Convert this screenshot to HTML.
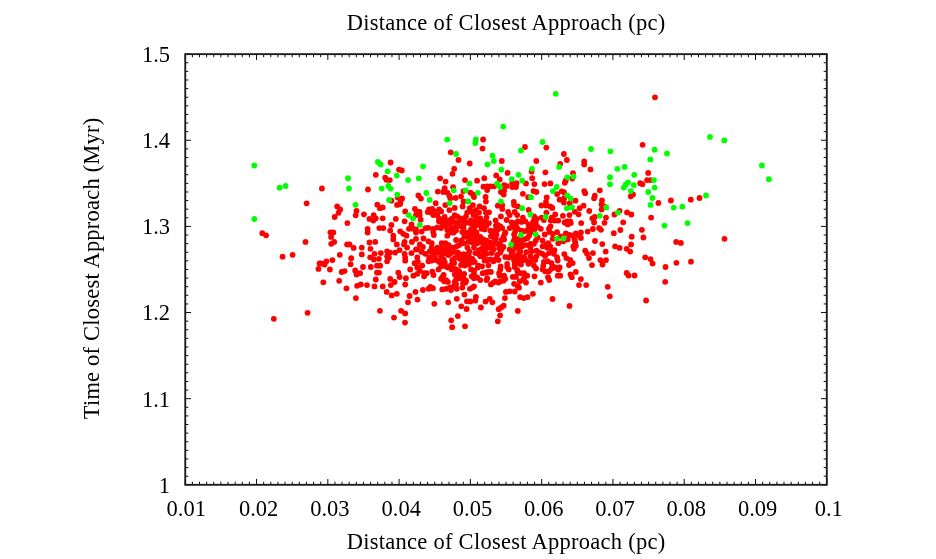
<!DOCTYPE html>
<html><head><meta charset="utf-8"><title>Closest Approach</title>
<style>html,body{margin:0;padding:0;background:#fff;overflow:hidden}svg{display:block}text{font-family:"Liberation Serif","Times New Roman",serif;font-size:22.5px;fill:#000}.r{fill:#f00}.g{fill:#0f0}</style></head><body>
<svg width="936" height="559" viewBox="0 0 936 559">
<rect width="936" height="559" fill="#fff"/>
<g class="r">
<circle cx="420.7" cy="219.7" r="2.9"/>
<circle cx="416.0" cy="229.4" r="2.9"/>
<circle cx="416.0" cy="238.8" r="2.9"/>
<circle cx="416.0" cy="232.5" r="2.9"/>
<circle cx="416.0" cy="249.4" r="2.9"/>
<circle cx="421.6" cy="231.6" r="2.9"/>
<circle cx="425.4" cy="228.1" r="2.9"/>
<circle cx="428.2" cy="227.8" r="2.9"/>
<circle cx="432.9" cy="228.8" r="2.9"/>
<circle cx="433.9" cy="235.0" r="2.9"/>
<circle cx="423.5" cy="238.5" r="2.9"/>
<circle cx="428.5" cy="241.3" r="2.9"/>
<circle cx="431.7" cy="243.2" r="2.9"/>
<circle cx="419.8" cy="244.4" r="2.9"/>
<circle cx="422.9" cy="246.9" r="2.9"/>
<circle cx="417.3" cy="249.4" r="2.9"/>
<circle cx="421.6" cy="251.9" r="2.9"/>
<circle cx="425.4" cy="253.8" r="2.9"/>
<circle cx="438.9" cy="221.3" r="2.9"/>
<circle cx="442.3" cy="223.8" r="2.9"/>
<circle cx="437.3" cy="227.5" r="2.9"/>
<circle cx="441.1" cy="228.1" r="2.9"/>
<circle cx="446.1" cy="221.9" r="2.9"/>
<circle cx="449.8" cy="223.8" r="2.9"/>
<circle cx="453.6" cy="221.9" r="2.9"/>
<circle cx="457.3" cy="222.5" r="2.9"/>
<circle cx="459.8" cy="220.6" r="2.9"/>
<circle cx="451.1" cy="228.1" r="2.9"/>
<circle cx="454.8" cy="227.5" r="2.9"/>
<circle cx="447.3" cy="230.0" r="2.9"/>
<circle cx="451.1" cy="232.5" r="2.9"/>
<circle cx="447.3" cy="235.7" r="2.9"/>
<circle cx="453.6" cy="232.5" r="2.9"/>
<circle cx="456.1" cy="230.6" r="2.9"/>
<circle cx="464.2" cy="223.8" r="2.9"/>
<circle cx="468.0" cy="222.5" r="2.9"/>
<circle cx="471.1" cy="223.8" r="2.9"/>
<circle cx="463.6" cy="228.1" r="2.9"/>
<circle cx="462.3" cy="231.9" r="2.9"/>
<circle cx="465.5" cy="233.2" r="2.9"/>
<circle cx="464.2" cy="236.9" r="2.9"/>
<circle cx="456.1" cy="240.0" r="2.9"/>
<circle cx="461.1" cy="240.7" r="2.9"/>
<circle cx="463.6" cy="243.2" r="2.9"/>
<circle cx="471.1" cy="229.4" r="2.9"/>
<circle cx="472.4" cy="233.8" r="2.9"/>
<circle cx="474.0" cy="227.5" r="2.9"/>
<circle cx="471.1" cy="238.8" r="2.9"/>
<circle cx="472.4" cy="242.5" r="2.9"/>
<circle cx="474.0" cy="238.2" r="2.9"/>
<circle cx="441.7" cy="243.2" r="2.9"/>
<circle cx="445.4" cy="243.2" r="2.9"/>
<circle cx="448.6" cy="245.1" r="2.9"/>
<circle cx="437.3" cy="247.6" r="2.9"/>
<circle cx="441.1" cy="248.2" r="2.9"/>
<circle cx="444.8" cy="248.8" r="2.9"/>
<circle cx="449.2" cy="249.4" r="2.9"/>
<circle cx="452.3" cy="247.6" r="2.9"/>
<circle cx="456.7" cy="246.3" r="2.9"/>
<circle cx="459.2" cy="245.1" r="2.9"/>
<circle cx="434.8" cy="251.3" r="2.9"/>
<circle cx="438.5" cy="252.6" r="2.9"/>
<circle cx="442.3" cy="253.2" r="2.9"/>
<circle cx="446.1" cy="253.8" r="2.9"/>
<circle cx="451.1" cy="253.2" r="2.9"/>
<circle cx="454.8" cy="251.9" r="2.9"/>
<circle cx="458.0" cy="252.6" r="2.9"/>
<circle cx="431.7" cy="247.6" r="2.9"/>
<circle cx="429.8" cy="251.3" r="2.9"/>
<circle cx="432.9" cy="253.8" r="2.9"/>
<circle cx="467.4" cy="247.6" r="2.9"/>
<circle cx="469.2" cy="251.3" r="2.9"/>
<circle cx="468.6" cy="253.8" r="2.9"/>
<circle cx="474.0" cy="247.6" r="2.9"/>
<circle cx="459.8" cy="255.0" r="2.9"/>
<circle cx="463.6" cy="254.1" r="2.9"/>
<circle cx="433.2" cy="231.9" r="2.9"/>
<circle cx="445.4" cy="226.0" r="2.9"/>
<circle cx="459.8" cy="226.0" r="2.9"/>
<circle cx="468.3" cy="232.5" r="2.9"/>
<circle cx="468.9" cy="237.5" r="2.9"/>
<circle cx="468.3" cy="241.9" r="2.9"/>
<circle cx="442.9" cy="220.0" r="2.9"/>
<circle cx="449.2" cy="220.3" r="2.9"/>
<circle cx="464.2" cy="220.0" r="2.9"/>
<circle cx="471.1" cy="220.3" r="2.9"/>
<circle cx="417.3" cy="257.5" r="2.9"/>
<circle cx="417.9" cy="261.9" r="2.9"/>
<circle cx="422.3" cy="265.6" r="2.9"/>
<circle cx="417.3" cy="267.5" r="2.9"/>
<circle cx="419.8" cy="270.7" r="2.9"/>
<circle cx="417.3" cy="273.8" r="2.9"/>
<circle cx="424.1" cy="273.2" r="2.9"/>
<circle cx="426.6" cy="273.2" r="2.9"/>
<circle cx="424.1" cy="276.3" r="2.9"/>
<circle cx="432.3" cy="271.6" r="2.9"/>
<circle cx="433.5" cy="275.0" r="2.9"/>
<circle cx="429.2" cy="257.5" r="2.9"/>
<circle cx="428.5" cy="261.3" r="2.9"/>
<circle cx="431.7" cy="260.6" r="2.9"/>
<circle cx="434.8" cy="256.3" r="2.9"/>
<circle cx="436.0" cy="260.0" r="2.9"/>
<circle cx="439.2" cy="261.9" r="2.9"/>
<circle cx="441.1" cy="256.9" r="2.9"/>
<circle cx="443.6" cy="259.4" r="2.9"/>
<circle cx="444.8" cy="262.5" r="2.9"/>
<circle cx="442.3" cy="265.0" r="2.9"/>
<circle cx="438.5" cy="269.4" r="2.9"/>
<circle cx="441.1" cy="266.3" r="2.9"/>
<circle cx="445.4" cy="266.3" r="2.9"/>
<circle cx="448.6" cy="255.0" r="2.9"/>
<circle cx="447.9" cy="267.5" r="2.9"/>
<circle cx="451.1" cy="265.0" r="2.9"/>
<circle cx="452.3" cy="260.0" r="2.9"/>
<circle cx="454.8" cy="258.1" r="2.9"/>
<circle cx="457.3" cy="256.9" r="2.9"/>
<circle cx="454.2" cy="263.1" r="2.9"/>
<circle cx="451.7" cy="269.4" r="2.9"/>
<circle cx="454.8" cy="268.8" r="2.9"/>
<circle cx="457.3" cy="270.0" r="2.9"/>
<circle cx="459.2" cy="271.3" r="2.9"/>
<circle cx="459.8" cy="258.8" r="2.9"/>
<circle cx="463.0" cy="256.9" r="2.9"/>
<circle cx="466.1" cy="258.1" r="2.9"/>
<circle cx="469.2" cy="256.9" r="2.9"/>
<circle cx="472.4" cy="258.8" r="2.9"/>
<circle cx="463.0" cy="261.9" r="2.9"/>
<circle cx="467.4" cy="261.9" r="2.9"/>
<circle cx="471.1" cy="262.5" r="2.9"/>
<circle cx="461.1" cy="265.0" r="2.9"/>
<circle cx="464.9" cy="265.6" r="2.9"/>
<circle cx="468.6" cy="264.4" r="2.9"/>
<circle cx="471.1" cy="269.4" r="2.9"/>
<circle cx="474.0" cy="270.7" r="2.9"/>
<circle cx="471.7" cy="276.3" r="2.9"/>
<circle cx="474.0" cy="278.2" r="2.9"/>
<circle cx="474.0" cy="273.8" r="2.9"/>
<circle cx="454.8" cy="274.4" r="2.9"/>
<circle cx="458.6" cy="276.3" r="2.9"/>
<circle cx="462.3" cy="275.0" r="2.9"/>
<circle cx="464.2" cy="273.8" r="2.9"/>
<circle cx="459.8" cy="278.2" r="2.9"/>
<circle cx="463.6" cy="278.2" r="2.9"/>
<circle cx="466.1" cy="280.7" r="2.9"/>
<circle cx="456.1" cy="279.4" r="2.9"/>
<circle cx="454.8" cy="281.9" r="2.9"/>
<circle cx="463.0" cy="283.2" r="2.9"/>
<circle cx="465.5" cy="282.6" r="2.9"/>
<circle cx="462.3" cy="287.6" r="2.9"/>
<circle cx="456.1" cy="284.4" r="2.9"/>
<circle cx="453.6" cy="286.3" r="2.9"/>
<circle cx="449.8" cy="287.6" r="2.9"/>
<circle cx="446.1" cy="288.8" r="2.9"/>
<circle cx="442.3" cy="289.4" r="2.9"/>
<circle cx="456.7" cy="288.8" r="2.9"/>
<circle cx="443.6" cy="275.0" r="2.9"/>
<circle cx="442.3" cy="277.5" r="2.9"/>
<circle cx="441.1" cy="278.8" r="2.9"/>
<circle cx="444.2" cy="281.3" r="2.9"/>
<circle cx="447.9" cy="281.9" r="2.9"/>
<circle cx="446.1" cy="280.1" r="2.9"/>
<circle cx="430.4" cy="286.9" r="2.9"/>
<circle cx="432.9" cy="288.2" r="2.9"/>
<circle cx="428.5" cy="288.8" r="2.9"/>
<circle cx="422.9" cy="290.0" r="2.9"/>
<circle cx="469.9" cy="288.8" r="2.9"/>
<circle cx="474.0" cy="286.3" r="2.9"/>
<circle cx="472.4" cy="287.6" r="2.9"/>
<circle cx="475.3" cy="221.3" r="2.9"/>
<circle cx="478.4" cy="221.9" r="2.9"/>
<circle cx="482.1" cy="221.3" r="2.9"/>
<circle cx="485.3" cy="222.5" r="2.9"/>
<circle cx="489.0" cy="223.1" r="2.9"/>
<circle cx="480.3" cy="225.0" r="2.9"/>
<circle cx="483.4" cy="226.3" r="2.9"/>
<circle cx="486.5" cy="225.6" r="2.9"/>
<circle cx="475.9" cy="225.6" r="2.9"/>
<circle cx="481.5" cy="228.8" r="2.9"/>
<circle cx="484.6" cy="229.4" r="2.9"/>
<circle cx="474.6" cy="231.3" r="2.9"/>
<circle cx="476.5" cy="232.5" r="2.9"/>
<circle cx="477.8" cy="236.3" r="2.9"/>
<circle cx="477.1" cy="239.4" r="2.9"/>
<circle cx="480.3" cy="236.9" r="2.9"/>
<circle cx="483.4" cy="239.4" r="2.9"/>
<circle cx="486.5" cy="240.7" r="2.9"/>
<circle cx="480.3" cy="241.9" r="2.9"/>
<circle cx="477.1" cy="243.2" r="2.9"/>
<circle cx="483.4" cy="243.2" r="2.9"/>
<circle cx="487.2" cy="243.8" r="2.9"/>
<circle cx="490.3" cy="242.5" r="2.9"/>
<circle cx="492.8" cy="243.8" r="2.9"/>
<circle cx="495.3" cy="242.5" r="2.9"/>
<circle cx="497.8" cy="243.8" r="2.9"/>
<circle cx="500.3" cy="245.1" r="2.9"/>
<circle cx="492.8" cy="246.9" r="2.9"/>
<circle cx="489.7" cy="247.6" r="2.9"/>
<circle cx="486.5" cy="248.2" r="2.9"/>
<circle cx="482.1" cy="248.2" r="2.9"/>
<circle cx="479.0" cy="250.1" r="2.9"/>
<circle cx="475.3" cy="253.2" r="2.9"/>
<circle cx="478.4" cy="253.8" r="2.9"/>
<circle cx="484.0" cy="252.6" r="2.9"/>
<circle cx="486.5" cy="253.8" r="2.9"/>
<circle cx="491.5" cy="253.2" r="2.9"/>
<circle cx="493.4" cy="249.4" r="2.9"/>
<circle cx="499.1" cy="248.2" r="2.9"/>
<circle cx="501.6" cy="249.4" r="2.9"/>
<circle cx="500.3" cy="252.6" r="2.9"/>
<circle cx="497.2" cy="255.0" r="2.9"/>
<circle cx="503.4" cy="246.9" r="2.9"/>
<circle cx="490.3" cy="230.6" r="2.9"/>
<circle cx="492.2" cy="233.8" r="2.9"/>
<circle cx="490.9" cy="236.3" r="2.9"/>
<circle cx="494.0" cy="237.5" r="2.9"/>
<circle cx="495.9" cy="238.8" r="2.9"/>
<circle cx="496.5" cy="234.4" r="2.9"/>
<circle cx="494.7" cy="230.6" r="2.9"/>
<circle cx="497.8" cy="229.4" r="2.9"/>
<circle cx="497.8" cy="225.0" r="2.9"/>
<circle cx="500.3" cy="226.3" r="2.9"/>
<circle cx="502.2" cy="228.1" r="2.9"/>
<circle cx="495.9" cy="225.6" r="2.9"/>
<circle cx="504.7" cy="233.8" r="2.9"/>
<circle cx="503.4" cy="236.9" r="2.9"/>
<circle cx="505.3" cy="232.5" r="2.9"/>
<circle cx="501.6" cy="240.0" r="2.9"/>
<circle cx="504.1" cy="239.4" r="2.9"/>
<circle cx="495.6" cy="220.3" r="2.9"/>
<circle cx="506.6" cy="220.0" r="2.9"/>
<circle cx="509.7" cy="228.1" r="2.9"/>
<circle cx="512.8" cy="226.9" r="2.9"/>
<circle cx="514.1" cy="223.1" r="2.9"/>
<circle cx="511.6" cy="222.5" r="2.9"/>
<circle cx="516.0" cy="225.6" r="2.9"/>
<circle cx="517.8" cy="228.8" r="2.9"/>
<circle cx="515.3" cy="231.3" r="2.9"/>
<circle cx="514.1" cy="234.4" r="2.9"/>
<circle cx="514.7" cy="238.2" r="2.9"/>
<circle cx="513.5" cy="241.3" r="2.9"/>
<circle cx="516.6" cy="241.3" r="2.9"/>
<circle cx="517.8" cy="238.8" r="2.9"/>
<circle cx="521.0" cy="240.7" r="2.9"/>
<circle cx="524.1" cy="239.4" r="2.9"/>
<circle cx="527.2" cy="238.2" r="2.9"/>
<circle cx="529.1" cy="235.7" r="2.9"/>
<circle cx="524.1" cy="231.3" r="2.9"/>
<circle cx="527.2" cy="230.6" r="2.9"/>
<circle cx="530.4" cy="232.5" r="2.9"/>
<circle cx="521.6" cy="230.6" r="2.9"/>
<circle cx="531.6" cy="228.8" r="2.9"/>
<circle cx="528.5" cy="228.8" r="2.9"/>
<circle cx="517.8" cy="221.3" r="2.9"/>
<circle cx="521.6" cy="221.9" r="2.9"/>
<circle cx="525.4" cy="221.3" r="2.9"/>
<circle cx="528.5" cy="224.4" r="2.9"/>
<circle cx="530.4" cy="225.6" r="2.9"/>
<circle cx="509.7" cy="249.4" r="2.9"/>
<circle cx="512.8" cy="251.3" r="2.9"/>
<circle cx="511.6" cy="253.8" r="2.9"/>
<circle cx="515.3" cy="247.6" r="2.9"/>
<circle cx="517.8" cy="245.1" r="2.9"/>
<circle cx="521.0" cy="245.1" r="2.9"/>
<circle cx="524.1" cy="245.1" r="2.9"/>
<circle cx="527.9" cy="245.1" r="2.9"/>
<circle cx="530.4" cy="243.8" r="2.9"/>
<circle cx="519.1" cy="249.4" r="2.9"/>
<circle cx="519.7" cy="252.6" r="2.9"/>
<circle cx="517.8" cy="255.0" r="2.9"/>
<circle cx="526.3" cy="252.1" r="2.9"/>
<circle cx="522.2" cy="246.3" r="2.9"/>
<circle cx="530.4" cy="247.6" r="2.9"/>
<circle cx="531.6" cy="251.3" r="2.9"/>
<circle cx="520.3" cy="251.3" r="2.9"/>
<circle cx="514.1" cy="245.1" r="2.9"/>
<circle cx="480.3" cy="256.3" r="2.9"/>
<circle cx="483.4" cy="256.3" r="2.9"/>
<circle cx="484.6" cy="260.6" r="2.9"/>
<circle cx="487.8" cy="260.0" r="2.9"/>
<circle cx="490.9" cy="259.4" r="2.9"/>
<circle cx="493.4" cy="261.3" r="2.9"/>
<circle cx="495.9" cy="258.8" r="2.9"/>
<circle cx="498.4" cy="260.0" r="2.9"/>
<circle cx="474.6" cy="261.9" r="2.9"/>
<circle cx="478.4" cy="265.6" r="2.9"/>
<circle cx="482.1" cy="266.3" r="2.9"/>
<circle cx="477.8" cy="267.5" r="2.9"/>
<circle cx="488.4" cy="265.3" r="2.9"/>
<circle cx="477.1" cy="277.5" r="2.9"/>
<circle cx="480.3" cy="280.1" r="2.9"/>
<circle cx="482.8" cy="273.2" r="2.9"/>
<circle cx="485.9" cy="272.5" r="2.9"/>
<circle cx="488.4" cy="271.9" r="2.9"/>
<circle cx="490.9" cy="271.9" r="2.9"/>
<circle cx="487.2" cy="278.2" r="2.9"/>
<circle cx="486.5" cy="280.1" r="2.9"/>
<circle cx="500.6" cy="266.3" r="2.9"/>
<circle cx="500.3" cy="269.4" r="2.9"/>
<circle cx="499.1" cy="273.2" r="2.9"/>
<circle cx="499.7" cy="275.7" r="2.9"/>
<circle cx="504.1" cy="275.7" r="2.9"/>
<circle cx="505.3" cy="278.8" r="2.9"/>
<circle cx="503.4" cy="280.7" r="2.9"/>
<circle cx="500.3" cy="281.3" r="2.9"/>
<circle cx="498.4" cy="282.6" r="2.9"/>
<circle cx="495.3" cy="281.3" r="2.9"/>
<circle cx="493.4" cy="282.6" r="2.9"/>
<circle cx="490.9" cy="284.4" r="2.9"/>
<circle cx="507.2" cy="263.8" r="2.9"/>
<circle cx="507.2" cy="266.9" r="2.9"/>
<circle cx="508.8" cy="269.4" r="2.9"/>
<circle cx="505.3" cy="256.9" r="2.9"/>
<circle cx="509.1" cy="257.5" r="2.9"/>
<circle cx="512.8" cy="256.3" r="2.9"/>
<circle cx="516.6" cy="257.5" r="2.9"/>
<circle cx="520.3" cy="256.3" r="2.9"/>
<circle cx="524.1" cy="256.9" r="2.9"/>
<circle cx="514.1" cy="260.6" r="2.9"/>
<circle cx="517.8" cy="260.0" r="2.9"/>
<circle cx="521.6" cy="260.6" r="2.9"/>
<circle cx="525.4" cy="260.0" r="2.9"/>
<circle cx="514.7" cy="264.4" r="2.9"/>
<circle cx="517.8" cy="263.1" r="2.9"/>
<circle cx="521.0" cy="264.4" r="2.9"/>
<circle cx="514.7" cy="266.9" r="2.9"/>
<circle cx="528.5" cy="263.8" r="2.9"/>
<circle cx="530.4" cy="261.3" r="2.9"/>
<circle cx="532.0" cy="258.8" r="2.9"/>
<circle cx="530.4" cy="256.3" r="2.9"/>
<circle cx="517.2" cy="270.0" r="2.9"/>
<circle cx="517.8" cy="272.5" r="2.9"/>
<circle cx="521.0" cy="273.2" r="2.9"/>
<circle cx="524.1" cy="273.2" r="2.9"/>
<circle cx="527.2" cy="275.7" r="2.9"/>
<circle cx="512.8" cy="276.9" r="2.9"/>
<circle cx="516.0" cy="276.9" r="2.9"/>
<circle cx="524.1" cy="278.2" r="2.9"/>
<circle cx="519.7" cy="281.3" r="2.9"/>
<circle cx="522.9" cy="280.1" r="2.9"/>
<circle cx="526.0" cy="282.6" r="2.9"/>
<circle cx="514.1" cy="283.8" r="2.9"/>
<circle cx="517.8" cy="286.3" r="2.9"/>
<circle cx="519.0" cy="287.7" r="2.9"/>
<circle cx="533.3" cy="221.3" r="2.9"/>
<circle cx="535.8" cy="223.1" r="2.9"/>
<circle cx="533.9" cy="226.3" r="2.9"/>
<circle cx="537.6" cy="226.9" r="2.9"/>
<circle cx="540.8" cy="228.8" r="2.9"/>
<circle cx="534.5" cy="229.4" r="2.9"/>
<circle cx="543.9" cy="220.0" r="2.9"/>
<circle cx="550.8" cy="220.6" r="2.9"/>
<circle cx="554.5" cy="220.6" r="2.9"/>
<circle cx="558.3" cy="220.6" r="2.9"/>
<circle cx="550.5" cy="226.3" r="2.9"/>
<circle cx="548.9" cy="228.8" r="2.9"/>
<circle cx="549.5" cy="231.9" r="2.9"/>
<circle cx="552.7" cy="233.8" r="2.9"/>
<circle cx="544.8" cy="234.4" r="2.9"/>
<circle cx="557.1" cy="232.2" r="2.9"/>
<circle cx="552.7" cy="238.8" r="2.9"/>
<circle cx="560.8" cy="236.3" r="2.9"/>
<circle cx="564.6" cy="222.5" r="2.9"/>
<circle cx="567.7" cy="224.4" r="2.9"/>
<circle cx="570.8" cy="223.1" r="2.9"/>
<circle cx="567.1" cy="221.3" r="2.9"/>
<circle cx="570.2" cy="221.3" r="2.9"/>
<circle cx="581.2" cy="223.1" r="2.9"/>
<circle cx="587.7" cy="231.6" r="2.9"/>
<circle cx="565.8" cy="233.5" r="2.9"/>
<circle cx="569.6" cy="235.0" r="2.9"/>
<circle cx="572.7" cy="235.7" r="2.9"/>
<circle cx="575.8" cy="233.5" r="2.9"/>
<circle cx="580.9" cy="232.5" r="2.9"/>
<circle cx="578.3" cy="235.0" r="2.9"/>
<circle cx="580.9" cy="237.9" r="2.9"/>
<circle cx="567.7" cy="239.4" r="2.9"/>
<circle cx="563.3" cy="241.3" r="2.9"/>
<circle cx="558.3" cy="243.2" r="2.9"/>
<circle cx="574.6" cy="239.4" r="2.9"/>
<circle cx="575.2" cy="242.5" r="2.9"/>
<circle cx="573.3" cy="246.3" r="2.9"/>
<circle cx="575.8" cy="245.7" r="2.9"/>
<circle cx="574.0" cy="248.8" r="2.9"/>
<circle cx="537.6" cy="237.5" r="2.9"/>
<circle cx="535.8" cy="240.7" r="2.9"/>
<circle cx="533.9" cy="243.8" r="2.9"/>
<circle cx="542.6" cy="240.7" r="2.9"/>
<circle cx="548.3" cy="243.2" r="2.9"/>
<circle cx="545.8" cy="245.1" r="2.9"/>
<circle cx="542.6" cy="246.3" r="2.9"/>
<circle cx="550.2" cy="246.3" r="2.9"/>
<circle cx="547.0" cy="247.6" r="2.9"/>
<circle cx="536.4" cy="250.7" r="2.9"/>
<circle cx="539.5" cy="252.6" r="2.9"/>
<circle cx="542.6" cy="253.8" r="2.9"/>
<circle cx="554.5" cy="250.1" r="2.9"/>
<circle cx="551.4" cy="251.3" r="2.9"/>
<circle cx="548.9" cy="253.2" r="2.9"/>
<circle cx="553.9" cy="253.8" r="2.9"/>
<circle cx="564.3" cy="254.1" r="2.9"/>
<circle cx="585.2" cy="250.7" r="2.9"/>
<circle cx="587.1" cy="253.8" r="2.9"/>
<circle cx="536.4" cy="256.3" r="2.9"/>
<circle cx="535.1" cy="260.0" r="2.9"/>
<circle cx="533.9" cy="265.6" r="2.9"/>
<circle cx="536.1" cy="268.5" r="2.9"/>
<circle cx="545.2" cy="255.9" r="2.9"/>
<circle cx="543.9" cy="261.9" r="2.9"/>
<circle cx="547.7" cy="261.3" r="2.9"/>
<circle cx="551.4" cy="263.1" r="2.9"/>
<circle cx="543.3" cy="265.6" r="2.9"/>
<circle cx="542.6" cy="269.4" r="2.9"/>
<circle cx="545.2" cy="271.3" r="2.9"/>
<circle cx="548.9" cy="271.3" r="2.9"/>
<circle cx="551.4" cy="268.8" r="2.9"/>
<circle cx="552.7" cy="266.3" r="2.9"/>
<circle cx="555.2" cy="267.5" r="2.9"/>
<circle cx="559.6" cy="267.5" r="2.9"/>
<circle cx="558.3" cy="269.4" r="2.9"/>
<circle cx="557.1" cy="257.5" r="2.9"/>
<circle cx="557.7" cy="260.6" r="2.9"/>
<circle cx="566.4" cy="258.1" r="2.9"/>
<circle cx="570.2" cy="260.0" r="2.9"/>
<circle cx="572.7" cy="263.1" r="2.9"/>
<circle cx="569.0" cy="265.0" r="2.9"/>
<circle cx="534.5" cy="276.3" r="2.9"/>
<circle cx="540.8" cy="282.6" r="2.9"/>
<circle cx="548.0" cy="277.2" r="2.9"/>
<circle cx="549.2" cy="280.1" r="2.9"/>
<circle cx="557.7" cy="275.7" r="2.9"/>
<circle cx="560.2" cy="275.7" r="2.9"/>
<circle cx="570.5" cy="274.4" r="2.9"/>
<circle cx="571.8" cy="277.2" r="2.9"/>
<circle cx="575.8" cy="271.9" r="2.9"/>
<circle cx="580.9" cy="279.1" r="2.9"/>
<circle cx="579.0" cy="285.1" r="2.9"/>
<circle cx="586.2" cy="285.1" r="2.9"/>
<circle cx="589.0" cy="258.1" r="2.9"/>
<circle cx="321.9" cy="188.5" r="2.9"/>
<circle cx="306.6" cy="203.3" r="2.9"/>
<circle cx="337.2" cy="206.5" r="2.9"/>
<circle cx="340.2" cy="209.5" r="2.9"/>
<circle cx="338.5" cy="212.8" r="2.9"/>
<circle cx="334.7" cy="217.0" r="2.9"/>
<circle cx="356.5" cy="211.0" r="2.9"/>
<circle cx="355.7" cy="215.3" r="2.9"/>
<circle cx="390.6" cy="162.5" r="2.9"/>
<circle cx="399.0" cy="169.7" r="2.9"/>
<circle cx="401.8" cy="170.4" r="2.9"/>
<circle cx="375.8" cy="174.8" r="2.9"/>
<circle cx="385.2" cy="177.6" r="2.9"/>
<circle cx="386.4" cy="179.8" r="2.9"/>
<circle cx="389.8" cy="180.1" r="2.9"/>
<circle cx="368.0" cy="189.5" r="2.9"/>
<circle cx="450.7" cy="152.3" r="2.9"/>
<circle cx="458.5" cy="160.0" r="2.9"/>
<circle cx="469.7" cy="163.5" r="2.9"/>
<circle cx="454.2" cy="168.8" r="2.9"/>
<circle cx="452.5" cy="173.8" r="2.9"/>
<circle cx="440.1" cy="178.3" r="2.9"/>
<circle cx="445.6" cy="181.6" r="2.9"/>
<circle cx="465.0" cy="180.1" r="2.9"/>
<circle cx="453.1" cy="187.2" r="2.9"/>
<circle cx="444.7" cy="188.2" r="2.9"/>
<circle cx="437.8" cy="191.6" r="2.9"/>
<circle cx="443.2" cy="192.0" r="2.9"/>
<circle cx="447.4" cy="192.6" r="2.9"/>
<circle cx="449.4" cy="195.7" r="2.9"/>
<circle cx="450.3" cy="198.2" r="2.9"/>
<circle cx="455.6" cy="197.9" r="2.9"/>
<circle cx="461.0" cy="196.3" r="2.9"/>
<circle cx="463.5" cy="191.1" r="2.9"/>
<circle cx="470.4" cy="192.6" r="2.9"/>
<circle cx="472.9" cy="194.5" r="2.9"/>
<circle cx="418.4" cy="195.5" r="2.9"/>
<circle cx="420.9" cy="198.6" r="2.9"/>
<circle cx="435.7" cy="203.2" r="2.9"/>
<circle cx="445.3" cy="205.1" r="2.9"/>
<circle cx="449.4" cy="210.1" r="2.9"/>
<circle cx="454.7" cy="207.9" r="2.9"/>
<circle cx="463.5" cy="201.4" r="2.9"/>
<circle cx="462.6" cy="206.4" r="2.9"/>
<circle cx="469.7" cy="208.2" r="2.9"/>
<circle cx="472.9" cy="205.1" r="2.9"/>
<circle cx="397.7" cy="197.6" r="2.9"/>
<circle cx="402.1" cy="198.5" r="2.9"/>
<circle cx="400.5" cy="201.4" r="2.9"/>
<circle cx="397.1" cy="204.9" r="2.9"/>
<circle cx="400.2" cy="204.1" r="2.9"/>
<circle cx="391.4" cy="200.7" r="2.9"/>
<circle cx="377.3" cy="204.7" r="2.9"/>
<circle cx="379.9" cy="208.2" r="2.9"/>
<circle cx="382.7" cy="207.4" r="2.9"/>
<circle cx="363.9" cy="214.3" r="2.9"/>
<circle cx="373.7" cy="215.1" r="2.9"/>
<circle cx="375.8" cy="218.3" r="2.9"/>
<circle cx="382.7" cy="218.3" r="2.9"/>
<circle cx="405.2" cy="211.4" r="2.9"/>
<circle cx="414.9" cy="208.9" r="2.9"/>
<circle cx="416.9" cy="211.4" r="2.9"/>
<circle cx="419.6" cy="212.0" r="2.9"/>
<circle cx="415.9" cy="215.1" r="2.9"/>
<circle cx="419.6" cy="215.1" r="2.9"/>
<circle cx="429.0" cy="209.5" r="2.9"/>
<circle cx="432.2" cy="208.9" r="2.9"/>
<circle cx="427.8" cy="212.0" r="2.9"/>
<circle cx="430.9" cy="212.6" r="2.9"/>
<circle cx="434.7" cy="211.4" r="2.9"/>
<circle cx="439.1" cy="209.5" r="2.9"/>
<circle cx="441.2" cy="211.4" r="2.9"/>
<circle cx="433.4" cy="215.1" r="2.9"/>
<circle cx="437.2" cy="215.1" r="2.9"/>
<circle cx="439.1" cy="218.3" r="2.9"/>
<circle cx="444.7" cy="217.0" r="2.9"/>
<circle cx="454.7" cy="215.1" r="2.9"/>
<circle cx="457.2" cy="216.4" r="2.9"/>
<circle cx="452.2" cy="218.3" r="2.9"/>
<circle cx="461.0" cy="218.3" r="2.9"/>
<circle cx="467.2" cy="212.6" r="2.9"/>
<circle cx="471.6" cy="211.4" r="2.9"/>
<circle cx="466.0" cy="216.4" r="2.9"/>
<circle cx="473.5" cy="215.1" r="2.9"/>
<circle cx="395.8" cy="218.9" r="2.9"/>
<circle cx="369.5" cy="218.9" r="2.9"/>
<circle cx="501.8" cy="161.0" r="2.9"/>
<circle cx="536.3" cy="161.0" r="2.9"/>
<circle cx="563.9" cy="154.0" r="2.9"/>
<circle cx="566.9" cy="160.0" r="2.9"/>
<circle cx="560.2" cy="164.0" r="2.9"/>
<circle cx="584.2" cy="161.5" r="2.9"/>
<circle cx="584.2" cy="164.4" r="2.9"/>
<circle cx="590.5" cy="169.4" r="2.9"/>
<circle cx="545.4" cy="172.3" r="2.9"/>
<circle cx="531.6" cy="171.5" r="2.9"/>
<circle cx="507.6" cy="172.9" r="2.9"/>
<circle cx="496.2" cy="175.4" r="2.9"/>
<circle cx="499.7" cy="179.4" r="2.9"/>
<circle cx="484.3" cy="178.2" r="2.9"/>
<circle cx="477.1" cy="180.7" r="2.9"/>
<circle cx="532.2" cy="178.2" r="2.9"/>
<circle cx="534.4" cy="184.1" r="2.9"/>
<circle cx="526.0" cy="183.4" r="2.9"/>
<circle cx="544.5" cy="184.1" r="2.9"/>
<circle cx="550.4" cy="183.4" r="2.9"/>
<circle cx="573.0" cy="173.2" r="2.9"/>
<circle cx="572.3" cy="178.6" r="2.9"/>
<circle cx="565.7" cy="180.7" r="2.9"/>
<circle cx="564.8" cy="182.8" r="2.9"/>
<circle cx="584.2" cy="191.1" r="2.9"/>
<circle cx="585.2" cy="193.2" r="2.9"/>
<circle cx="483.4" cy="186.7" r="2.9"/>
<circle cx="487.2" cy="186.3" r="2.9"/>
<circle cx="490.3" cy="186.3" r="2.9"/>
<circle cx="487.2" cy="190.1" r="2.9"/>
<circle cx="494.0" cy="186.3" r="2.9"/>
<circle cx="504.1" cy="185.1" r="2.9"/>
<circle cx="506.8" cy="186.1" r="2.9"/>
<circle cx="512.2" cy="183.2" r="2.9"/>
<circle cx="516.6" cy="183.2" r="2.9"/>
<circle cx="512.2" cy="187.0" r="2.9"/>
<circle cx="516.0" cy="187.0" r="2.9"/>
<circle cx="500.9" cy="192.0" r="2.9"/>
<circle cx="504.1" cy="190.7" r="2.9"/>
<circle cx="503.7" cy="194.5" r="2.9"/>
<circle cx="533.5" cy="191.1" r="2.9"/>
<circle cx="536.4" cy="192.0" r="2.9"/>
<circle cx="522.9" cy="193.8" r="2.9"/>
<circle cx="528.2" cy="197.2" r="2.9"/>
<circle cx="546.7" cy="197.4" r="2.9"/>
<circle cx="557.1" cy="194.1" r="2.9"/>
<circle cx="561.7" cy="191.3" r="2.9"/>
<circle cx="563.9" cy="192.2" r="2.9"/>
<circle cx="559.6" cy="199.7" r="2.9"/>
<circle cx="564.2" cy="198.2" r="2.9"/>
<circle cx="563.9" cy="202.6" r="2.9"/>
<circle cx="575.5" cy="200.7" r="2.9"/>
<circle cx="569.8" cy="203.2" r="2.9"/>
<circle cx="583.6" cy="205.7" r="2.9"/>
<circle cx="579.6" cy="208.2" r="2.9"/>
<circle cx="574.8" cy="211.8" r="2.9"/>
<circle cx="578.6" cy="214.3" r="2.9"/>
<circle cx="589.2" cy="211.0" r="2.9"/>
<circle cx="569.5" cy="215.1" r="2.9"/>
<circle cx="562.9" cy="215.8" r="2.9"/>
<circle cx="555.2" cy="214.5" r="2.9"/>
<circle cx="546.0" cy="202.0" r="2.9"/>
<circle cx="541.4" cy="205.5" r="2.9"/>
<circle cx="546.0" cy="205.5" r="2.9"/>
<circle cx="550.4" cy="206.4" r="2.9"/>
<circle cx="552.3" cy="207.9" r="2.9"/>
<circle cx="546.4" cy="212.6" r="2.9"/>
<circle cx="541.6" cy="217.6" r="2.9"/>
<circle cx="551.7" cy="217.6" r="2.9"/>
<circle cx="513.8" cy="202.0" r="2.9"/>
<circle cx="514.1" cy="205.1" r="2.9"/>
<circle cx="517.8" cy="206.4" r="2.9"/>
<circle cx="528.7" cy="209.9" r="2.9"/>
<circle cx="534.1" cy="216.4" r="2.9"/>
<circle cx="536.6" cy="218.9" r="2.9"/>
<circle cx="522.9" cy="217.6" r="2.9"/>
<circle cx="514.7" cy="212.0" r="2.9"/>
<circle cx="517.2" cy="215.1" r="2.9"/>
<circle cx="508.1" cy="212.0" r="2.9"/>
<circle cx="509.7" cy="215.1" r="2.9"/>
<circle cx="500.9" cy="216.4" r="2.9"/>
<circle cx="497.8" cy="205.7" r="2.9"/>
<circle cx="502.2" cy="205.1" r="2.9"/>
<circle cx="502.2" cy="208.9" r="2.9"/>
<circle cx="485.6" cy="197.0" r="2.9"/>
<circle cx="485.9" cy="201.6" r="2.9"/>
<circle cx="474.0" cy="197.0" r="2.9"/>
<circle cx="479.6" cy="206.4" r="2.9"/>
<circle cx="484.0" cy="208.2" r="2.9"/>
<circle cx="475.9" cy="210.1" r="2.9"/>
<circle cx="479.0" cy="212.6" r="2.9"/>
<circle cx="485.9" cy="212.6" r="2.9"/>
<circle cx="489.0" cy="212.3" r="2.9"/>
<circle cx="475.9" cy="216.4" r="2.9"/>
<circle cx="480.3" cy="218.3" r="2.9"/>
<circle cx="486.5" cy="217.6" r="2.9"/>
<circle cx="648.2" cy="172.9" r="2.9"/>
<circle cx="647.1" cy="180.1" r="2.9"/>
<circle cx="650.5" cy="180.1" r="2.9"/>
<circle cx="640.2" cy="183.2" r="2.9"/>
<circle cx="642.4" cy="184.2" r="2.9"/>
<circle cx="633.0" cy="194.5" r="2.9"/>
<circle cx="630.8" cy="196.3" r="2.9"/>
<circle cx="599.8" cy="190.3" r="2.9"/>
<circle cx="594.8" cy="195.7" r="2.9"/>
<circle cx="594.1" cy="198.2" r="2.9"/>
<circle cx="602.0" cy="200.5" r="2.9"/>
<circle cx="601.6" cy="204.5" r="2.9"/>
<circle cx="604.2" cy="206.4" r="2.9"/>
<circle cx="601.6" cy="209.5" r="2.9"/>
<circle cx="658.4" cy="203.0" r="2.9"/>
<circle cx="670.9" cy="200.5" r="2.9"/>
<circle cx="690.8" cy="199.7" r="2.9"/>
<circle cx="699.5" cy="198.0" r="2.9"/>
<circle cx="619.6" cy="210.8" r="2.9"/>
<circle cx="614.4" cy="214.5" r="2.9"/>
<circle cx="627.0" cy="212.4" r="2.9"/>
<circle cx="631.3" cy="214.5" r="2.9"/>
<circle cx="651.1" cy="217.6" r="2.9"/>
<circle cx="606.0" cy="217.6" r="2.9"/>
<circle cx="594.8" cy="217.0" r="2.9"/>
<circle cx="592.3" cy="218.3" r="2.9"/>
<circle cx="483.1" cy="139.5" r="2.9"/>
<circle cx="482.5" cy="148.6" r="2.9"/>
<circle cx="525.0" cy="147.0" r="2.9"/>
<circle cx="546.3" cy="147.6" r="2.9"/>
<circle cx="655.0" cy="97.3" r="2.9"/>
<circle cx="642.6" cy="144.8" r="2.9"/>
<circle cx="262.3" cy="233.2" r="2.9"/>
<circle cx="266.1" cy="235.3" r="2.9"/>
<circle cx="305.5" cy="241.9" r="2.9"/>
<circle cx="282.6" cy="256.7" r="2.9"/>
<circle cx="292.6" cy="254.8" r="2.9"/>
<circle cx="347.4" cy="223.1" r="2.9"/>
<circle cx="330.4" cy="232.3" r="2.9"/>
<circle cx="333.3" cy="232.5" r="2.9"/>
<circle cx="331.1" cy="236.9" r="2.9"/>
<circle cx="334.2" cy="241.9" r="2.9"/>
<circle cx="331.2" cy="243.8" r="2.9"/>
<circle cx="347.1" cy="244.4" r="2.9"/>
<circle cx="349.6" cy="244.4" r="2.9"/>
<circle cx="353.7" cy="247.9" r="2.9"/>
<circle cx="339.8" cy="254.8" r="2.9"/>
<circle cx="332.4" cy="260.1" r="2.9"/>
<circle cx="351.2" cy="258.2" r="2.9"/>
<circle cx="350.6" cy="264.2" r="2.9"/>
<circle cx="326.4" cy="261.3" r="2.9"/>
<circle cx="324.6" cy="264.5" r="2.9"/>
<circle cx="319.5" cy="263.5" r="2.9"/>
<circle cx="321.4" cy="263.5" r="2.9"/>
<circle cx="318.5" cy="268.9" r="2.9"/>
<circle cx="329.9" cy="269.5" r="2.9"/>
<circle cx="341.7" cy="272.0" r="2.9"/>
<circle cx="344.6" cy="271.1" r="2.9"/>
<circle cx="355.2" cy="270.5" r="2.9"/>
<circle cx="356.5" cy="274.5" r="2.9"/>
<circle cx="323.3" cy="282.3" r="2.9"/>
<circle cx="339.2" cy="280.8" r="2.9"/>
<circle cx="346.5" cy="288.3" r="2.9"/>
<circle cx="357.1" cy="285.8" r="2.9"/>
<circle cx="367.6" cy="228.8" r="2.9"/>
<circle cx="367.6" cy="232.5" r="2.9"/>
<circle cx="373.3" cy="220.6" r="2.9"/>
<circle cx="379.3" cy="228.1" r="2.9"/>
<circle cx="383.3" cy="228.1" r="2.9"/>
<circle cx="391.4" cy="225.0" r="2.9"/>
<circle cx="390.2" cy="230.6" r="2.9"/>
<circle cx="393.3" cy="235.7" r="2.9"/>
<circle cx="393.3" cy="239.4" r="2.9"/>
<circle cx="369.5" cy="242.5" r="2.9"/>
<circle cx="375.2" cy="241.9" r="2.9"/>
<circle cx="361.8" cy="247.6" r="2.9"/>
<circle cx="370.5" cy="248.8" r="2.9"/>
<circle cx="361.8" cy="254.4" r="2.9"/>
<circle cx="374.5" cy="253.8" r="2.9"/>
<circle cx="380.8" cy="253.2" r="2.9"/>
<circle cx="370.2" cy="257.3" r="2.9"/>
<circle cx="373.9" cy="259.5" r="2.9"/>
<circle cx="378.9" cy="258.8" r="2.9"/>
<circle cx="387.1" cy="251.3" r="2.9"/>
<circle cx="390.2" cy="252.6" r="2.9"/>
<circle cx="387.1" cy="256.3" r="2.9"/>
<circle cx="388.9" cy="257.6" r="2.9"/>
<circle cx="387.1" cy="261.3" r="2.9"/>
<circle cx="395.2" cy="252.6" r="2.9"/>
<circle cx="399.6" cy="250.1" r="2.9"/>
<circle cx="396.8" cy="244.4" r="2.9"/>
<circle cx="400.2" cy="231.3" r="2.9"/>
<circle cx="403.3" cy="233.8" r="2.9"/>
<circle cx="406.5" cy="235.7" r="2.9"/>
<circle cx="404.6" cy="241.9" r="2.9"/>
<circle cx="404.0" cy="244.4" r="2.9"/>
<circle cx="407.1" cy="247.6" r="2.9"/>
<circle cx="411.5" cy="224.4" r="2.9"/>
<circle cx="409.0" cy="228.8" r="2.9"/>
<circle cx="413.4" cy="228.8" r="2.9"/>
<circle cx="411.9" cy="241.9" r="2.9"/>
<circle cx="411.5" cy="253.2" r="2.9"/>
<circle cx="404.6" cy="253.8" r="2.9"/>
<circle cx="405.2" cy="257.6" r="2.9"/>
<circle cx="405.2" cy="260.7" r="2.9"/>
<circle cx="404.6" cy="221.3" r="2.9"/>
<circle cx="414.6" cy="263.2" r="2.9"/>
<circle cx="410.2" cy="269.5" r="2.9"/>
<circle cx="413.4" cy="275.7" r="2.9"/>
<circle cx="363.0" cy="267.0" r="2.9"/>
<circle cx="370.8" cy="267.0" r="2.9"/>
<circle cx="377.0" cy="265.7" r="2.9"/>
<circle cx="380.2" cy="265.7" r="2.9"/>
<circle cx="377.0" cy="272.6" r="2.9"/>
<circle cx="378.9" cy="272.6" r="2.9"/>
<circle cx="360.1" cy="273.2" r="2.9"/>
<circle cx="375.8" cy="279.5" r="2.9"/>
<circle cx="367.0" cy="285.1" r="2.9"/>
<circle cx="360.8" cy="284.5" r="2.9"/>
<circle cx="374.5" cy="286.4" r="2.9"/>
<circle cx="382.7" cy="286.4" r="2.9"/>
<circle cx="390.2" cy="278.9" r="2.9"/>
<circle cx="394.6" cy="282.0" r="2.9"/>
<circle cx="390.8" cy="285.1" r="2.9"/>
<circle cx="398.3" cy="272.6" r="2.9"/>
<circle cx="399.6" cy="277.0" r="2.9"/>
<circle cx="405.9" cy="278.2" r="2.9"/>
<circle cx="405.2" cy="284.5" r="2.9"/>
<circle cx="594.1" cy="222.5" r="2.9"/>
<circle cx="604.5" cy="222.8" r="2.9"/>
<circle cx="623.2" cy="222.3" r="2.9"/>
<circle cx="592.9" cy="229.0" r="2.9"/>
<circle cx="599.1" cy="228.1" r="2.9"/>
<circle cx="601.0" cy="229.8" r="2.9"/>
<circle cx="613.8" cy="233.2" r="2.9"/>
<circle cx="620.4" cy="230.0" r="2.9"/>
<circle cx="641.9" cy="229.8" r="2.9"/>
<circle cx="643.4" cy="237.5" r="2.9"/>
<circle cx="631.7" cy="236.7" r="2.9"/>
<circle cx="595.0" cy="241.0" r="2.9"/>
<circle cx="602.3" cy="244.1" r="2.9"/>
<circle cx="631.1" cy="244.4" r="2.9"/>
<circle cx="615.1" cy="246.3" r="2.9"/>
<circle cx="619.6" cy="247.9" r="2.9"/>
<circle cx="626.7" cy="248.8" r="2.9"/>
<circle cx="630.2" cy="251.6" r="2.9"/>
<circle cx="605.7" cy="251.6" r="2.9"/>
<circle cx="592.9" cy="253.2" r="2.9"/>
<circle cx="600.4" cy="260.1" r="2.9"/>
<circle cx="606.0" cy="260.1" r="2.9"/>
<circle cx="602.5" cy="264.5" r="2.9"/>
<circle cx="592.0" cy="265.1" r="2.9"/>
<circle cx="645.2" cy="257.3" r="2.9"/>
<circle cx="650.5" cy="259.1" r="2.9"/>
<circle cx="652.6" cy="263.6" r="2.9"/>
<circle cx="626.7" cy="273.0" r="2.9"/>
<circle cx="628.6" cy="275.5" r="2.9"/>
<circle cx="634.5" cy="275.5" r="2.9"/>
<circle cx="607.7" cy="286.8" r="2.9"/>
<circle cx="665.5" cy="267.0" r="2.9"/>
<circle cx="676.4" cy="262.8" r="2.9"/>
<circle cx="691.0" cy="261.7" r="2.9"/>
<circle cx="665.2" cy="281.8" r="2.9"/>
<circle cx="676.2" cy="241.9" r="2.9"/>
<circle cx="680.9" cy="242.9" r="2.9"/>
<circle cx="724.5" cy="238.8" r="2.9"/>
<circle cx="273.8" cy="318.8" r="2.9"/>
<circle cx="307.6" cy="312.8" r="2.9"/>
<circle cx="355.9" cy="298.1" r="2.9"/>
<circle cx="386.7" cy="291.9" r="2.9"/>
<circle cx="391.7" cy="295.4" r="2.9"/>
<circle cx="396.8" cy="293.8" r="2.9"/>
<circle cx="409.6" cy="296.0" r="2.9"/>
<circle cx="415.5" cy="291.9" r="2.9"/>
<circle cx="451.0" cy="290.0" r="2.9"/>
<circle cx="417.5" cy="299.6" r="2.9"/>
<circle cx="408.0" cy="302.3" r="2.9"/>
<circle cx="434.3" cy="303.8" r="2.9"/>
<circle cx="448.2" cy="302.3" r="2.9"/>
<circle cx="456.8" cy="298.8" r="2.9"/>
<circle cx="464.4" cy="294.6" r="2.9"/>
<circle cx="466.9" cy="301.3" r="2.9"/>
<circle cx="470.4" cy="301.5" r="2.9"/>
<circle cx="461.3" cy="306.3" r="2.9"/>
<circle cx="466.6" cy="309.0" r="2.9"/>
<circle cx="379.9" cy="310.8" r="2.9"/>
<circle cx="401.1" cy="310.8" r="2.9"/>
<circle cx="405.2" cy="313.4" r="2.9"/>
<circle cx="394.0" cy="317.6" r="2.9"/>
<circle cx="405.0" cy="322.6" r="2.9"/>
<circle cx="457.8" cy="316.1" r="2.9"/>
<circle cx="451.2" cy="320.3" r="2.9"/>
<circle cx="452.2" cy="327.2" r="2.9"/>
<circle cx="465.0" cy="326.3" r="2.9"/>
<circle cx="475.9" cy="296.9" r="2.9"/>
<circle cx="475.3" cy="300.6" r="2.9"/>
<circle cx="485.5" cy="301.6" r="2.9"/>
<circle cx="489.7" cy="298.8" r="2.9"/>
<circle cx="492.4" cy="302.3" r="2.9"/>
<circle cx="480.9" cy="307.5" r="2.9"/>
<circle cx="504.9" cy="298.1" r="2.9"/>
<circle cx="505.9" cy="291.9" r="2.9"/>
<circle cx="509.7" cy="291.3" r="2.9"/>
<circle cx="514.7" cy="291.5" r="2.9"/>
<circle cx="520.1" cy="297.1" r="2.9"/>
<circle cx="523.7" cy="298.1" r="2.9"/>
<circle cx="527.5" cy="297.1" r="2.9"/>
<circle cx="532.9" cy="293.8" r="2.9"/>
<circle cx="517.8" cy="310.9" r="2.9"/>
<circle cx="503.7" cy="305.7" r="2.9"/>
<circle cx="501.2" cy="307.5" r="2.9"/>
<circle cx="498.7" cy="309.2" r="2.9"/>
<circle cx="500.1" cy="315.3" r="2.9"/>
<circle cx="497.8" cy="321.3" r="2.9"/>
<circle cx="552.5" cy="299.0" r="2.9"/>
<circle cx="569.5" cy="305.9" r="2.9"/>
<circle cx="609.8" cy="296.3" r="2.9"/>
<circle cx="646.1" cy="300.5" r="2.9"/>
</g><g class="g">
<circle cx="419.8" cy="224.9" r="2.9"/>
<circle cx="520.8" cy="235.0" r="2.9"/>
<circle cx="511.1" cy="244.6" r="2.9"/>
<circle cx="535.6" cy="234.3" r="2.9"/>
<circle cx="556.9" cy="238.6" r="2.9"/>
<circle cx="563.5" cy="238.6" r="2.9"/>
<circle cx="254.3" cy="165.4" r="2.9"/>
<circle cx="279.6" cy="187.7" r="2.9"/>
<circle cx="285.6" cy="186.0" r="2.9"/>
<circle cx="254.3" cy="219.0" r="2.9"/>
<circle cx="348.0" cy="178.2" r="2.9"/>
<circle cx="349.0" cy="188.5" r="2.9"/>
<circle cx="355.5" cy="204.8" r="2.9"/>
<circle cx="447.2" cy="139.6" r="2.9"/>
<circle cx="377.9" cy="161.9" r="2.9"/>
<circle cx="380.6" cy="164.4" r="2.9"/>
<circle cx="387.6" cy="171.3" r="2.9"/>
<circle cx="396.8" cy="175.6" r="2.9"/>
<circle cx="408.1" cy="180.1" r="2.9"/>
<circle cx="418.8" cy="178.3" r="2.9"/>
<circle cx="423.1" cy="166.3" r="2.9"/>
<circle cx="381.7" cy="188.6" r="2.9"/>
<circle cx="388.3" cy="186.0" r="2.9"/>
<circle cx="390.6" cy="188.6" r="2.9"/>
<circle cx="397.3" cy="194.7" r="2.9"/>
<circle cx="389.1" cy="199.9" r="2.9"/>
<circle cx="426.3" cy="193.0" r="2.9"/>
<circle cx="429.7" cy="199.9" r="2.9"/>
<circle cx="453.7" cy="190.3" r="2.9"/>
<circle cx="449.7" cy="203.2" r="2.9"/>
<circle cx="465.7" cy="190.3" r="2.9"/>
<circle cx="469.4" cy="183.4" r="2.9"/>
<circle cx="468.2" cy="201.4" r="2.9"/>
<circle cx="456.0" cy="154.0" r="2.9"/>
<circle cx="408.6" cy="215.1" r="2.9"/>
<circle cx="413.0" cy="218.3" r="2.9"/>
<circle cx="492.5" cy="155.6" r="2.9"/>
<circle cx="493.8" cy="161.0" r="2.9"/>
<circle cx="487.5" cy="164.4" r="2.9"/>
<circle cx="501.3" cy="169.7" r="2.9"/>
<circle cx="518.5" cy="174.8" r="2.9"/>
<circle cx="511.8" cy="179.1" r="2.9"/>
<circle cx="522.2" cy="180.7" r="2.9"/>
<circle cx="497.2" cy="183.6" r="2.9"/>
<circle cx="499.9" cy="187.0" r="2.9"/>
<circle cx="477.8" cy="192.8" r="2.9"/>
<circle cx="500.9" cy="201.4" r="2.9"/>
<circle cx="522.2" cy="208.2" r="2.9"/>
<circle cx="530.4" cy="214.5" r="2.9"/>
<circle cx="545.7" cy="217.0" r="2.9"/>
<circle cx="531.0" cy="197.2" r="2.9"/>
<circle cx="531.9" cy="168.8" r="2.9"/>
<circle cx="521.0" cy="150.5" r="2.9"/>
<circle cx="559.2" cy="166.9" r="2.9"/>
<circle cx="567.3" cy="177.3" r="2.9"/>
<circle cx="573.6" cy="176.6" r="2.9"/>
<circle cx="556.7" cy="187.0" r="2.9"/>
<circle cx="552.9" cy="191.1" r="2.9"/>
<circle cx="567.3" cy="195.3" r="2.9"/>
<circle cx="570.7" cy="198.6" r="2.9"/>
<circle cx="566.9" cy="208.2" r="2.9"/>
<circle cx="572.0" cy="207.4" r="2.9"/>
<circle cx="610.4" cy="151.3" r="2.9"/>
<circle cx="654.6" cy="149.7" r="2.9"/>
<circle cx="667.0" cy="153.4" r="2.9"/>
<circle cx="650.3" cy="159.4" r="2.9"/>
<circle cx="624.6" cy="166.9" r="2.9"/>
<circle cx="617.3" cy="168.8" r="2.9"/>
<circle cx="610.0" cy="177.2" r="2.9"/>
<circle cx="610.0" cy="184.2" r="2.9"/>
<circle cx="634.2" cy="174.8" r="2.9"/>
<circle cx="628.0" cy="182.3" r="2.9"/>
<circle cx="625.8" cy="184.4" r="2.9"/>
<circle cx="623.8" cy="187.6" r="2.9"/>
<circle cx="633.8" cy="185.1" r="2.9"/>
<circle cx="630.8" cy="191.1" r="2.9"/>
<circle cx="653.9" cy="180.1" r="2.9"/>
<circle cx="654.6" cy="187.6" r="2.9"/>
<circle cx="648.2" cy="192.0" r="2.9"/>
<circle cx="652.4" cy="198.0" r="2.9"/>
<circle cx="650.5" cy="204.9" r="2.9"/>
<circle cx="673.7" cy="207.6" r="2.9"/>
<circle cx="682.4" cy="206.7" r="2.9"/>
<circle cx="706.0" cy="195.5" r="2.9"/>
<circle cx="606.3" cy="207.4" r="2.9"/>
<circle cx="617.9" cy="212.6" r="2.9"/>
<circle cx="599.8" cy="215.8" r="2.9"/>
<circle cx="591.0" cy="149.0" r="2.9"/>
<circle cx="710.0" cy="136.9" r="2.9"/>
<circle cx="724.3" cy="140.4" r="2.9"/>
<circle cx="761.9" cy="165.4" r="2.9"/>
<circle cx="768.9" cy="179.2" r="2.9"/>
<circle cx="555.7" cy="93.8" r="2.9"/>
<circle cx="503.2" cy="126.6" r="2.9"/>
<circle cx="542.6" cy="142.0" r="2.9"/>
<circle cx="475.9" cy="139.5" r="2.9"/>
<circle cx="475.3" cy="143.0" r="2.9"/>
<circle cx="664.5" cy="225.6" r="2.9"/>
<circle cx="687.5" cy="223.1" r="2.9"/>
</g>
<path d="M185.25 54.15v5.8M185.25 484.8v-5.8M192.38 54.15v3.1M192.38 484.8v-3.1M199.51 54.15v3.1M199.51 484.8v-3.1M206.64 54.15v3.1M206.64 484.8v-3.1M213.76 54.15v3.1M213.76 484.8v-3.1M220.89 54.15v3.1M220.89 484.8v-3.1M228.02 54.15v3.1M228.02 484.8v-3.1M235.15 54.15v3.1M235.15 484.8v-3.1M242.28 54.15v3.1M242.28 484.8v-3.1M249.41 54.15v3.1M249.41 484.8v-3.1M256.53 54.15v5.8M256.53 484.8v-5.8M263.66 54.15v3.1M263.66 484.8v-3.1M270.79 54.15v3.1M270.79 484.8v-3.1M277.92 54.15v3.1M277.92 484.8v-3.1M285.05 54.15v3.1M285.05 484.8v-3.1M292.18 54.15v3.1M292.18 484.8v-3.1M299.30 54.15v3.1M299.30 484.8v-3.1M306.43 54.15v3.1M306.43 484.8v-3.1M313.56 54.15v3.1M313.56 484.8v-3.1M320.69 54.15v3.1M320.69 484.8v-3.1M327.82 54.15v5.8M327.82 484.8v-5.8M334.94 54.15v3.1M334.94 484.8v-3.1M342.07 54.15v3.1M342.07 484.8v-3.1M349.20 54.15v3.1M349.20 484.8v-3.1M356.33 54.15v3.1M356.33 484.8v-3.1M363.46 54.15v3.1M363.46 484.8v-3.1M370.59 54.15v3.1M370.59 484.8v-3.1M377.71 54.15v3.1M377.71 484.8v-3.1M384.84 54.15v3.1M384.84 484.8v-3.1M391.97 54.15v3.1M391.97 484.8v-3.1M399.10 54.15v5.8M399.10 484.8v-5.8M406.23 54.15v3.1M406.23 484.8v-3.1M413.36 54.15v3.1M413.36 484.8v-3.1M420.49 54.15v3.1M420.49 484.8v-3.1M427.61 54.15v3.1M427.61 484.8v-3.1M434.74 54.15v3.1M434.74 484.8v-3.1M441.87 54.15v3.1M441.87 484.8v-3.1M449.00 54.15v3.1M449.00 484.8v-3.1M456.13 54.15v3.1M456.13 484.8v-3.1M463.25 54.15v3.1M463.25 484.8v-3.1M470.38 54.15v5.8M470.38 484.8v-5.8M477.51 54.15v3.1M477.51 484.8v-3.1M484.64 54.15v3.1M484.64 484.8v-3.1M491.77 54.15v3.1M491.77 484.8v-3.1M498.90 54.15v3.1M498.90 484.8v-3.1M506.02 54.15v3.1M506.02 484.8v-3.1M513.15 54.15v3.1M513.15 484.8v-3.1M520.28 54.15v3.1M520.28 484.8v-3.1M527.41 54.15v3.1M527.41 484.8v-3.1M534.54 54.15v3.1M534.54 484.8v-3.1M541.67 54.15v5.8M541.67 484.8v-5.8M548.80 54.15v3.1M548.80 484.8v-3.1M555.92 54.15v3.1M555.92 484.8v-3.1M563.05 54.15v3.1M563.05 484.8v-3.1M570.18 54.15v3.1M570.18 484.8v-3.1M577.31 54.15v3.1M577.31 484.8v-3.1M584.44 54.15v3.1M584.44 484.8v-3.1M591.57 54.15v3.1M591.57 484.8v-3.1M598.69 54.15v3.1M598.69 484.8v-3.1M605.82 54.15v3.1M605.82 484.8v-3.1M612.95 54.15v5.8M612.95 484.8v-5.8M620.08 54.15v3.1M620.08 484.8v-3.1M627.21 54.15v3.1M627.21 484.8v-3.1M634.34 54.15v3.1M634.34 484.8v-3.1M641.46 54.15v3.1M641.46 484.8v-3.1M648.59 54.15v3.1M648.59 484.8v-3.1M655.72 54.15v3.1M655.72 484.8v-3.1M662.85 54.15v3.1M662.85 484.8v-3.1M669.98 54.15v3.1M669.98 484.8v-3.1M677.11 54.15v3.1M677.11 484.8v-3.1M684.23 54.15v5.8M684.23 484.8v-5.8M691.36 54.15v3.1M691.36 484.8v-3.1M698.49 54.15v3.1M698.49 484.8v-3.1M705.62 54.15v3.1M705.62 484.8v-3.1M712.75 54.15v3.1M712.75 484.8v-3.1M719.88 54.15v3.1M719.88 484.8v-3.1M727.00 54.15v3.1M727.00 484.8v-3.1M734.13 54.15v3.1M734.13 484.8v-3.1M741.26 54.15v3.1M741.26 484.8v-3.1M748.39 54.15v3.1M748.39 484.8v-3.1M755.52 54.15v5.8M755.52 484.8v-5.8M762.64 54.15v3.1M762.64 484.8v-3.1M769.77 54.15v3.1M769.77 484.8v-3.1M776.90 54.15v3.1M776.90 484.8v-3.1M784.03 54.15v3.1M784.03 484.8v-3.1M791.16 54.15v3.1M791.16 484.8v-3.1M798.29 54.15v3.1M798.29 484.8v-3.1M805.42 54.15v3.1M805.42 484.8v-3.1M812.54 54.15v3.1M812.54 484.8v-3.1M819.67 54.15v3.1M819.67 484.8v-3.1M826.80 54.15v5.8M826.80 484.8v-5.8M185.25 484.80h5.8M826.8 484.80h-5.8M185.25 476.19h3.1M826.8 476.19h-3.1M185.25 467.57h3.1M826.8 467.57h-3.1M185.25 458.96h3.1M826.8 458.96h-3.1M185.25 450.35h3.1M826.8 450.35h-3.1M185.25 441.73h3.1M826.8 441.73h-3.1M185.25 433.12h3.1M826.8 433.12h-3.1M185.25 424.51h3.1M826.8 424.51h-3.1M185.25 415.90h3.1M826.8 415.90h-3.1M185.25 407.28h3.1M826.8 407.28h-3.1M185.25 398.67h5.8M826.8 398.67h-5.8M185.25 390.06h3.1M826.8 390.06h-3.1M185.25 381.44h3.1M826.8 381.44h-3.1M185.25 372.83h3.1M826.8 372.83h-3.1M185.25 364.22h3.1M826.8 364.22h-3.1M185.25 355.61h3.1M826.8 355.61h-3.1M185.25 346.99h3.1M826.8 346.99h-3.1M185.25 338.38h3.1M826.8 338.38h-3.1M185.25 329.77h3.1M826.8 329.77h-3.1M185.25 321.15h3.1M826.8 321.15h-3.1M185.25 312.54h5.8M826.8 312.54h-5.8M185.25 303.93h3.1M826.8 303.93h-3.1M185.25 295.31h3.1M826.8 295.31h-3.1M185.25 286.70h3.1M826.8 286.70h-3.1M185.25 278.09h3.1M826.8 278.09h-3.1M185.25 269.48h3.1M826.8 269.48h-3.1M185.25 260.86h3.1M826.8 260.86h-3.1M185.25 252.25h3.1M826.8 252.25h-3.1M185.25 243.64h3.1M826.8 243.64h-3.1M185.25 235.02h3.1M826.8 235.02h-3.1M185.25 226.41h5.8M826.8 226.41h-5.8M185.25 217.80h3.1M826.8 217.80h-3.1M185.25 209.18h3.1M826.8 209.18h-3.1M185.25 200.57h3.1M826.8 200.57h-3.1M185.25 191.96h3.1M826.8 191.96h-3.1M185.25 183.34h3.1M826.8 183.34h-3.1M185.25 174.73h3.1M826.8 174.73h-3.1M185.25 166.12h3.1M826.8 166.12h-3.1M185.25 157.51h3.1M826.8 157.51h-3.1M185.25 148.89h3.1M826.8 148.89h-3.1M185.25 140.28h5.8M826.8 140.28h-5.8M185.25 131.67h3.1M826.8 131.67h-3.1M185.25 123.05h3.1M826.8 123.05h-3.1M185.25 114.44h3.1M826.8 114.44h-3.1M185.25 105.83h3.1M826.8 105.83h-3.1M185.25 97.22h3.1M826.8 97.22h-3.1M185.25 88.60h3.1M826.8 88.60h-3.1M185.25 79.99h3.1M826.8 79.99h-3.1M185.25 71.38h3.1M826.8 71.38h-3.1M185.25 62.76h3.1M826.8 62.76h-3.1M185.25 54.15h5.8M826.8 54.15h-5.8" stroke="#000" stroke-width="0.95" fill="none"/>
<rect x="185.25" y="54.15" width="641.55" height="430.65" fill="none" stroke="#1a1a1a" stroke-width="1.85"/>
<g text-anchor="middle">
<text x="186.2" y="515.9">0.01</text>
<text x="258.6" y="515.9">0.02</text>
<text x="329.9" y="515.9">0.03</text>
<text x="401.2" y="515.9">0.04</text>
<text x="472.5" y="515.9">0.05</text>
<text x="543.8" y="515.9">0.06</text>
<text x="615.0" y="515.9">0.07</text>
<text x="686.3" y="515.9">0.08</text>
<text x="757.6" y="515.9">0.09</text>
<text x="828.8" y="515.9">0.1</text>
</g><g text-anchor="end">
<text x="170" y="493.0">1</text>
<text x="170" y="406.6">1.1</text>
<text x="170" y="320.4">1.2</text>
<text x="170" y="234.3">1.3</text>
<text x="170" y="148.2">1.4</text>
<text x="170" y="62.0">1.5</text>
</g>
<g text-anchor="middle" letter-spacing="0.27">
<text x="506.1" y="29.6">Distance of Closest Approach (pc)</text>
<text x="506.1" y="549.3">Distance of Closest Approach (pc)</text>
<text transform="translate(99.4 268.4) rotate(-90)" letter-spacing="0.21">Time of Closest Approach (Myr)</text>
</g>
</svg></body></html>
